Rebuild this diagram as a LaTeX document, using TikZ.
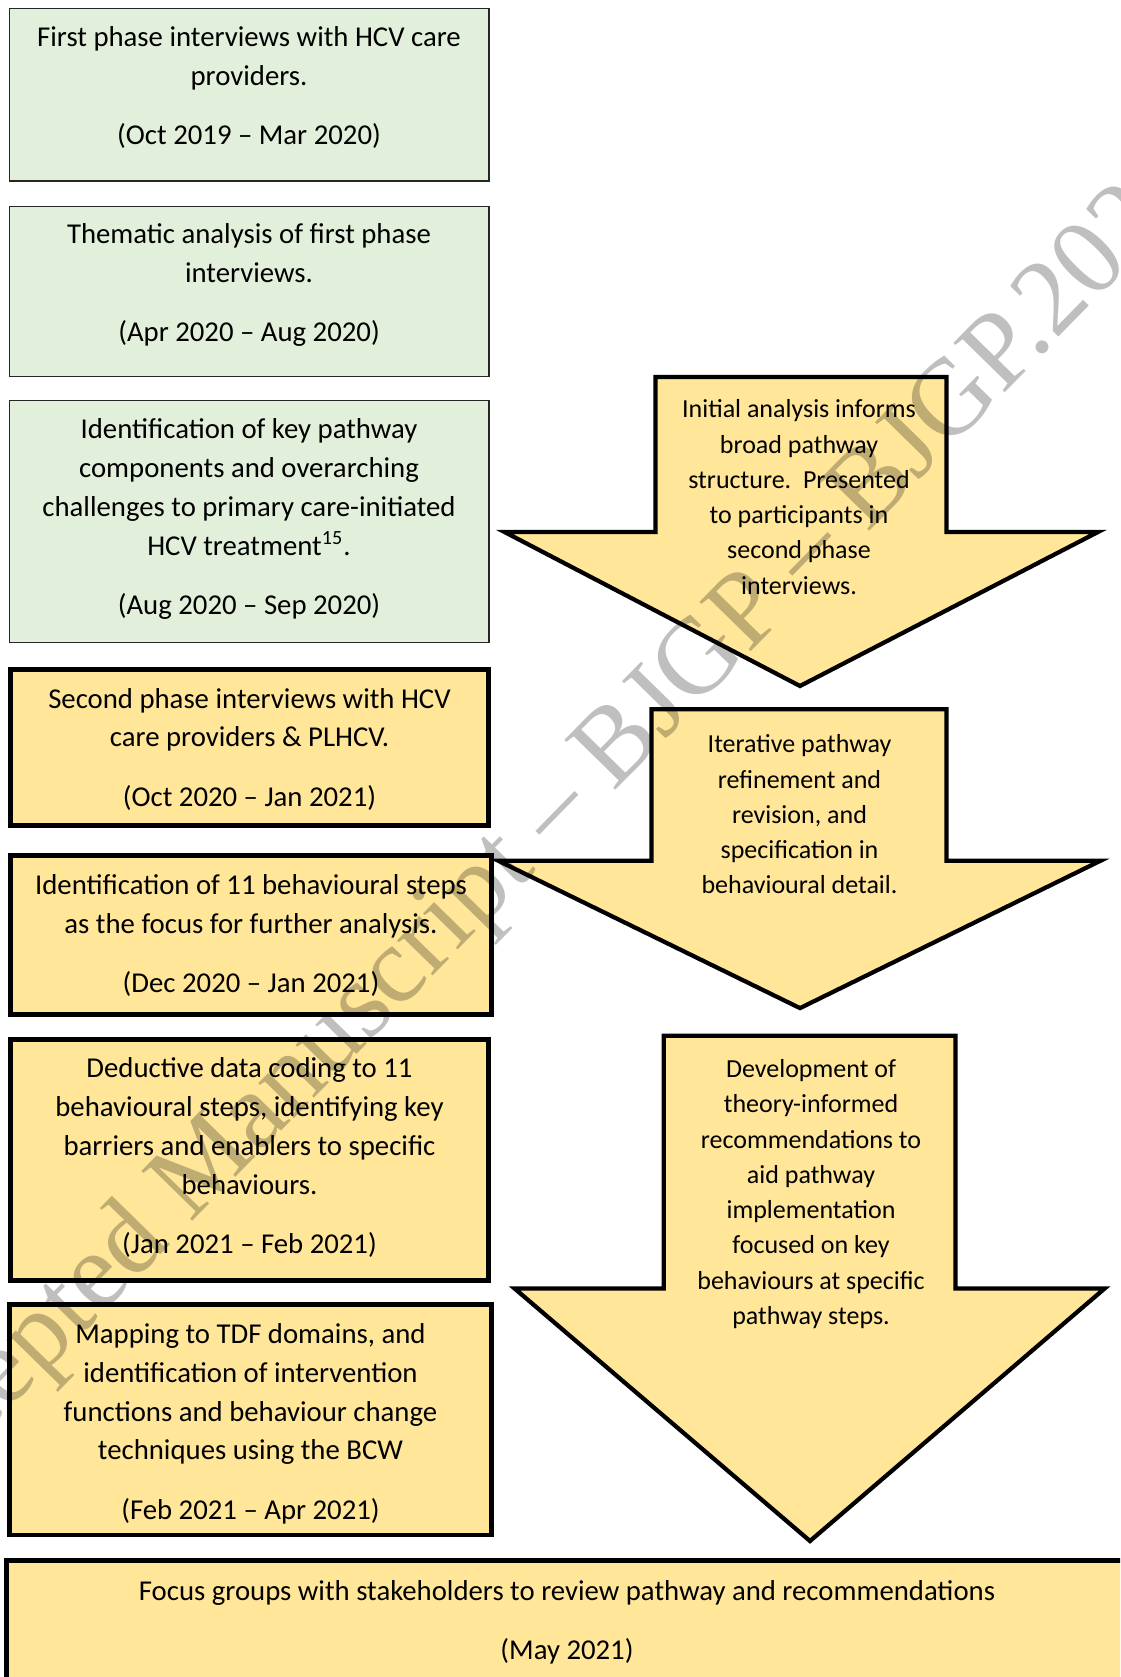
\documentclass[tikz,border=0pt]{standalone}
\usepackage{fontspec}
\setmainfont{Carlito}
\newfontfamily\wmfont{Liberation Serif}
\usetikzlibrary{fit}
\definecolor{stagegreen}{HTML}{E2EFDA}
\definecolor{stageyellow}{HTML}{FFE699}
\begin{document}
\begin{tikzpicture}[x=0.4pt, y=-0.4pt, greenbox/.style={draw=black!85, line width=0.55pt, fill=stagegreen, inner sep=0pt}, yellowbox/.style={draw=black, line width=1.9pt, fill=stageyellow, inner sep=0pt}, bigarrow/.style={draw=black, line width=1.7pt, fill=stageyellow}, boxtext/.style={align=center, inner sep=0pt, font=\fontsize{11.5}{15.5}\selectfont}, arrowtext/.style={align=center, inner sep=0pt, font=\fontsize{10.4}{14.1}\selectfont}, watermark/.style={text=black, text opacity=0.25, font=\wmfont\fontsize{43.5}{50}\selectfont, rotate=45.6, anchor=base west, inner sep=0pt}]
	\useasboundingbox (0,0) rectangle (1120,1677);
	\clip (0,0) rectangle (1120,1677);
	\node[greenbox, fit={(9.3,8.3) (489,181)}] (b1) {};
	\node[greenbox, fit={(9.3,206.7) (489,376.7)}] (b2) {};
	\node[greenbox, fit={(9.3,400.7) (489,642.3)}] (b3) {};
	\node[yellowbox, fit={(10.8,669.2) (488.2,825.8)}] (b4) {};
	\node[yellowbox, fit={(10.8,855.8) (491.5,1014.2)}] (b5) {};
	\node[yellowbox, fit={(10.8,1039.2) (488.2,1280.2)}] (b6) {};
	\node[yellowbox, fit={(9.5,1304.5) (491.5,1535)}] (b7) {};
	\node[yellowbox, fit={(6.5,1560.5) (1130,1700)}] (b8) {};
	\draw[bigarrow] (655.5,377) -- (946.5,377) -- (946.5,532) -- (1098,532) -- (800,686) -- (504.5,532) -- (655.5,532) -- cycle;
	\draw[bigarrow] (651.4,709.3) -- (946.5,709.3) -- (946.5,860.8) -- (1100.4,860.8) -- (800,1008.1) -- (498.4,860.8) -- (651.4,860.8) -- cycle;
	\draw[bigarrow] (663.7,1035.7) -- (955.5,1035.7) -- (955.5,1288.6) -- (1104.5,1288.6) -- (810,1541) -- (514.7,1288.6) -- (663.7,1288.6) -- cycle;
	\node[boxtext] (t1) at (249,87.5) {First phase interviews with HCV care\\ providers.\\[8.2pt] (Oct 2019 – Mar 2020)};
	\node[boxtext] (t2) at (249,285) {Thematic analysis of first phase\\ interviews.\\[8.2pt] (Apr 2020 – Aug 2020)};
	\node[boxtext] (t3) at (249,519.2) {Identification of key pathway\\ components and overarching\\ challenges to primary care-initiated\\ HCV treatment\textsuperscript{15}.\\[8.2pt] (Aug 2020 – Sep 2020)};
	\node[boxtext] (t4) at (249.5,749.2) {Second phase interviews with HCV\\ care providers \& PLHCV.\\[8.2pt] (Oct 2020 – Jan 2021)};
	\node[boxtext] (t5) at (251,935.8) {Identification of 11 behavioural steps\\ as the focus for further analysis.\\[8.2pt] (Dec 2020 – Jan 2021)};
	\node[boxtext] (t6) at (249.5,1157.5) {Deductive data coding to 11\\ behavioural steps, identifying key\\ barriers and enablers to specific\\ behaviours.\\[8.2pt] (Jan 2021 – Feb 2021)};
	\node[boxtext] (t7) at (250.5,1423.7) {Mapping to TDF domains, and\\ identification of intervention\\ functions and behaviour change\\ techniques using the BCW\\[8.2pt] (Feb 2021 – Apr 2021)};
	\node[boxtext] (t8) at (567,1622.3) {Focus groups with stakeholders to review pathway and recommendations\\[8.2pt] (May 2021)};
	\node[arrowtext] (a1) at (799,497) {Initial analysis informs\\ broad pathway\\ structure.\ \ Presented\\ to participants in\\ second phase\\ interviews.};
	\node[arrowtext] (a2) at (799.5,814.5) {Iterative pathway\\ refinement and\\ revision, and\\ specification in\\ behavioural detail.};
	\node[arrowtext] (a3) at (811,1194) {Development of\\ theory-informed\\ recommendations to\\ aid pathway\\ implementation\\ focused on key\\ behaviours at specific\\ pathway steps.};
	\node[watermark] (wm) at (-116,1537) {Accepted Manuscript – BJGP – BJGP.2021.0};
\end{tikzpicture}
\end{document}
